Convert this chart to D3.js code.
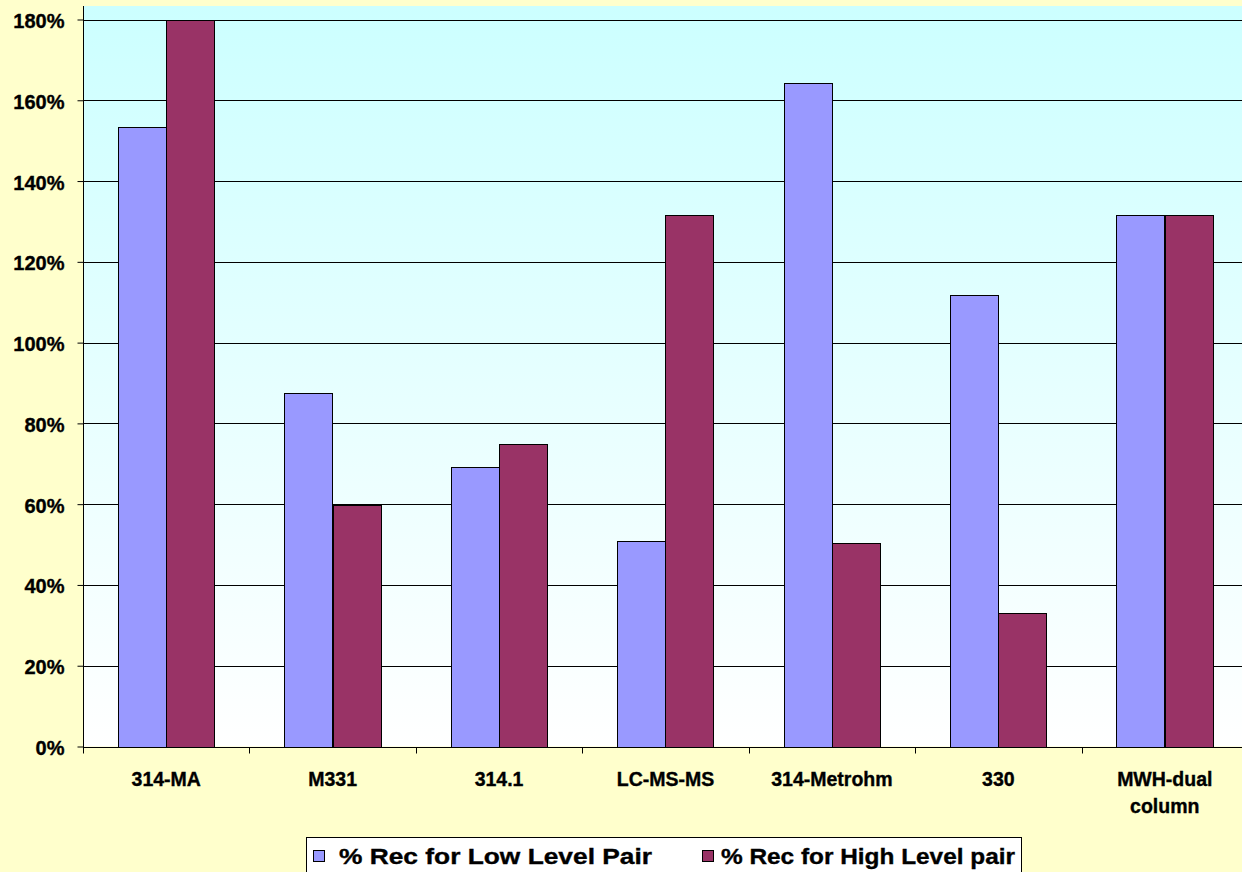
<!DOCTYPE html>
<html><head><meta charset="utf-8">
<script src="https://cdn.jsdelivr.net/npm/d3@7"></script>
<style>
html,body{margin:0;padding:0;background:#FFFFCC;}
svg{display:block;}
text{font-family:"Liberation Sans",Arial,sans-serif;font-weight:bold;fill:#000;stroke:#000;stroke-width:0.35px;}
</style></head>
<body>
<svg id="chart" width="1242" height="872"></svg>
<script>
const categories = ["314-MA","M331","314.1","LC-MS-MS","314-Metrohm","330","MWH-dual column"];
const seriesNames = ["% Rec for Low Level Pair","% Rec for High Level pair"];
const lowLevel  = [1.535, 0.876, 0.693, 0.510, 1.642, 1.119, 1.315];
const highLevel = [1.798, 0.598, 0.750, 1.317, 0.504, 0.330, 1.317];
const yTicks = [0, 0.2, 0.4, 0.6, 0.8, 1.0, 1.2, 1.4, 1.6, 1.8];
const seriesColors = ["#9999FF", "#993366"];

const svg = d3.select("#chart");
const W = 1242, H = 872;
const plot = {left: 83, right: 1248, top: 6, bottom: 746.5};

const x = d3.scaleBand().domain(categories).range([plot.left, plot.right]).padding(0);
const xs = d3.scaleBand().domain(seriesNames).range([0, x.bandwidth()]).paddingInner(0).paddingOuter(0.72);
const y = d3.scaleLinear().domain([0, 1.8]).range([plot.bottom, 19.5]);

svg.append("rect").attr("width", W).attr("height", H).attr("fill", "#FFFFCC");

const defs = svg.append("defs");
const grad = defs.append("linearGradient").attr("id","bg").attr("x1",0).attr("y1",0).attr("x2",0).attr("y2",1);
grad.append("stop").attr("offset","0%").attr("stop-color","#CCFFFF");
grad.append("stop").attr("offset","100%").attr("stop-color","#FFFFFF");

svg.append("rect")
  .attr("x", plot.left).attr("y", plot.top)
  .attr("width", plot.right - plot.left).attr("height", plot.bottom - plot.top)
  .attr("fill", "url(#bg)");

// gridlines
svg.append("g").selectAll("line").data(yTicks.filter(d => d > 0)).join("line")
  .attr("x1", plot.left).attr("x2", plot.right)
  .attr("y1", d => Math.round(y(d)) + 0.5).attr("y2", d => Math.round(y(d)) + 0.5)
  .attr("stroke", "#000").attr("stroke-width", 1);

// bars
const series = [lowLevel, highLevel];
series.forEach((vals, si) => {
  svg.append("g").selectAll("rect").data(vals).join("rect")
    .attr("x", (d, i) => Math.round(x(categories[i]) + xs(seriesNames[si])) + 0.5)
    .attr("y", d => Math.round(y(d)) + 0.5)
    .attr("width", Math.round(xs.bandwidth()))
    .attr("height", d => Math.round(y(0)) - Math.round(y(d)))
    .attr("fill", seriesColors[si])
    .attr("stroke", "#000").attr("stroke-width", 1);
});

// y axis
const yAxis = d3.axisLeft(y).tickValues(yTicks).tickFormat(d3.format(".0%")).tickSize(6).tickPadding(13);
const gy = svg.append("g").attr("transform", `translate(${plot.left + 0.5},0)`).call(yAxis);
gy.attr("font-family", null).attr("font-size", null);
gy.select(".domain").attr("d", `M0,${plot.top}V${Math.round(y(0)) + 0.5}`).attr("stroke", "#000");
gy.selectAll(".tick line").attr("stroke", "#000");
gy.selectAll(".tick text").attr("font-size", "20px").attr("dy", "0.4em").attr("fill", "#000");

// x axis
const xAxis = d3.axisBottom(x).tickSize(0).tickFormat("");
const gx = svg.append("g").attr("transform", `translate(0,${Math.round(y(0)) + 0.5})`).call(xAxis);
gx.attr("font-family", null).attr("font-size", null);
gx.select(".domain").attr("d", `M${plot.left},0H${plot.right}`).attr("stroke", "#000");
gx.selectAll(".bt").data(categories).join("line").attr("class","bt")
  .attr("x1", d => Math.round(x(d)) + 0.5).attr("x2", d => Math.round(x(d)) + 0.5)
  .attr("y1", 0).attr("y2", 6).attr("stroke", "#000");
gx.selectAll(".xl").data(categories).join("text").attr("class","xl")
  .attr("x", d => x(d) + x.bandwidth() / 2)
  .attr("text-anchor", "middle")
  .attr("font-size", "19.5px")
  .each(function(d) {
    const parts = d.indexOf(" ") >= 0 ? d.split(" ") : [d];
    d3.select(this).selectAll("tspan").data(parts).join("tspan")
      .attr("x", x(d) + x.bandwidth() / 2)
      .attr("y", (p, i) => 38.5 + i * 26.5)
      .text(p => p);
  });

// legend
const lg = svg.append("g");
lg.append("rect").attr("x", 306.5).attr("y", 837.5).attr("width", 715).attr("height", 45)
  .attr("fill", "#FFFFFF").attr("stroke", "#000").attr("stroke-width", 1);
const legendItems = [
  {name: seriesNames[0], color: seriesColors[0], sx: 313.5, tx: 339, tw: 313},
  {name: seriesNames[1], color: seriesColors[1], sx: 702.5, tx: 721, tw: 294}
];
legendItems.forEach(it => {
  lg.append("rect").attr("x", it.sx).attr("y", 850.5).attr("width", 11).attr("height", 11)
    .attr("fill", it.color).attr("stroke", "#000").attr("stroke-width", 1);
  lg.append("text").attr("x", it.tx).attr("y", 864).attr("font-size", "22px")
    .attr("textLength", it.tw).attr("lengthAdjust", "spacingAndGlyphs")
    .text(it.name);
});
</script>
</body></html>
